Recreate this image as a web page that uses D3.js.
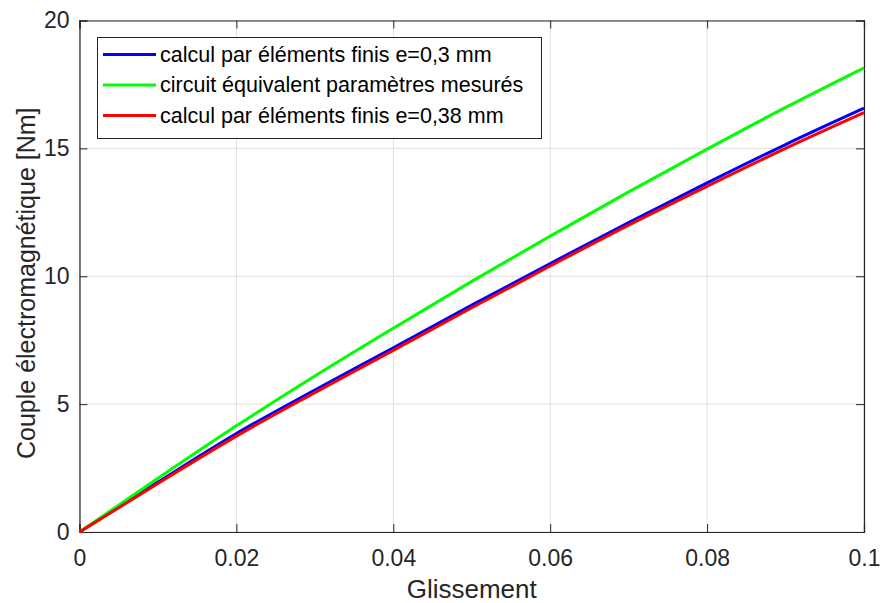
<!DOCTYPE html>
<html><head><meta charset="utf-8">
<script src="https://cdn.jsdelivr.net/npm/d3@7"></script>
<style>body{margin:0;background:#fff}svg{display:block;font-family:"Liberation Sans",Arial,sans-serif}</style>
</head><body><svg id="c" width="880" height="603"></svg>
<script>
const slip = [0, 0.01, 0.02, 0.03, 0.04, 0.05, 0.06, 0.07, 0.08, 0.09, 0.1];
const fem03 = [0, 1.95, 3.85, 5.55, 7.2, 8.87, 10.5, 12.1, 13.65, 15.15, 16.57];
const circuit = [0, 2.1, 4.15, 6.1, 7.97, 9.8, 11.57, 13.3, 14.97, 16.6, 18.15];
const fem038 = [0, 1.9, 3.75, 5.45, 7.1, 8.77, 10.4, 12.0, 13.52, 15.0, 16.4];
const seriesNames = ["calcul par éléments finis e=0,3 mm", "circuit équivalent paramètres mesurés", "calcul par éléments finis e=0,38 mm"];
const seriesColors = ["#0000ff", "#00ff00", "#ff0000"];
const xTicks = [0, 0.02, 0.04, 0.06, 0.08, 0.1];
const yTicks = [0, 5, 10, 15, 20];
const xTitle = "Glissement";
const yTitle = "Couple électromagnétique [Nm]";

const svg = d3.select("#c");
const L = 79.5, R = 864, T = 20.5, B = 532;
const x = d3.scaleLinear().domain([0, 0.1]).range([L, R]);
const y = d3.scaleLinear().domain([0, 20]).range([B, T]);
const ink = "#262626";

// grid
svg.append("g").selectAll("line").data(xTicks).join("line")
  .attr("x1", d => x(d)).attr("x2", d => x(d)).attr("y1", T).attr("y2", B)
  .attr("stroke", "#dfdfdf").attr("stroke-width", 1);
svg.append("g").selectAll("line").data(yTicks).join("line")
  .attr("x1", L).attr("x2", R).attr("y1", d => y(d)).attr("y2", d => y(d))
  .attr("stroke", "#dfdfdf").attr("stroke-width", 1);

// axes
const fmtX = d => d === 0 ? "0" : String(+d.toFixed(2));
svg.append("g").attr("transform", `translate(0,${B})`)
  .call(d3.axisBottom(x).tickValues(xTicks).tickSize(-8).tickPadding(17.5).tickFormat(fmtX));
svg.append("g").attr("transform", `translate(${L},0)`)
  .call(d3.axisLeft(y).tickValues(yTicks).tickSize(-8).tickPadding(10));
svg.append("g").attr("transform", `translate(0,${T})`)
  .call(d3.axisTop(x).tickValues(xTicks).tickSize(-8).tickFormat(""));
svg.append("g").attr("transform", `translate(${R},0)`)
  .call(d3.axisRight(y).tickValues(yTicks).tickSize(-8).tickFormat(""));
svg.selectAll(".domain").attr("stroke", ink).attr("stroke-width", 1.2);
svg.selectAll(".tick line").attr("stroke", ink);
svg.selectAll(".tick text").attr("fill", ink).attr("font-size", 23)
  .attr("font-family", "Liberation Sans, Arial, sans-serif");

// lines
const all = [fem03, circuit, fem038];
const line = d3.line().x((d, i) => x(slip[i])).y(d => y(d)).curve(d3.curveMonotoneX);
all.forEach((s, k) => {
  svg.append("path").datum(s).attr("d", line).attr("fill", "none")
    .attr("stroke", seriesColors[k]).attr("stroke-width", 3);
});

// titles
svg.append("text").attr("x", (L + R) / 2).attr("y", 598).attr("text-anchor", "middle")
  .attr("font-size", 26).attr("fill", ink).text(xTitle);
svg.append("text").attr("transform", `translate(35,${(T + B) / 2 + 7}) rotate(-90)`)
  .attr("text-anchor", "middle").attr("font-size", 25).attr("fill", ink).text(yTitle);

// legend
const lg = svg.append("g");
lg.append("rect").attr("x", 97.5).attr("y", 37.5).attr("width", 444).attr("height", 101)
  .attr("fill", "#fff").attr("stroke", ink).attr("stroke-width", 1);
seriesNames.forEach((n, k) => {
  const yy = 54.5 + k * 30.5;
  lg.append("line").attr("x1", 103).attr("x2", 156).attr("y1", yy).attr("y2", yy)
    .attr("stroke", seriesColors[k]).attr("stroke-width", 3);
  lg.append("text").attr("x", 160).attr("y", yy + 7).attr("font-size", 21.5)
    .attr("fill", "#000").text(n);
});
</script></body></html>
